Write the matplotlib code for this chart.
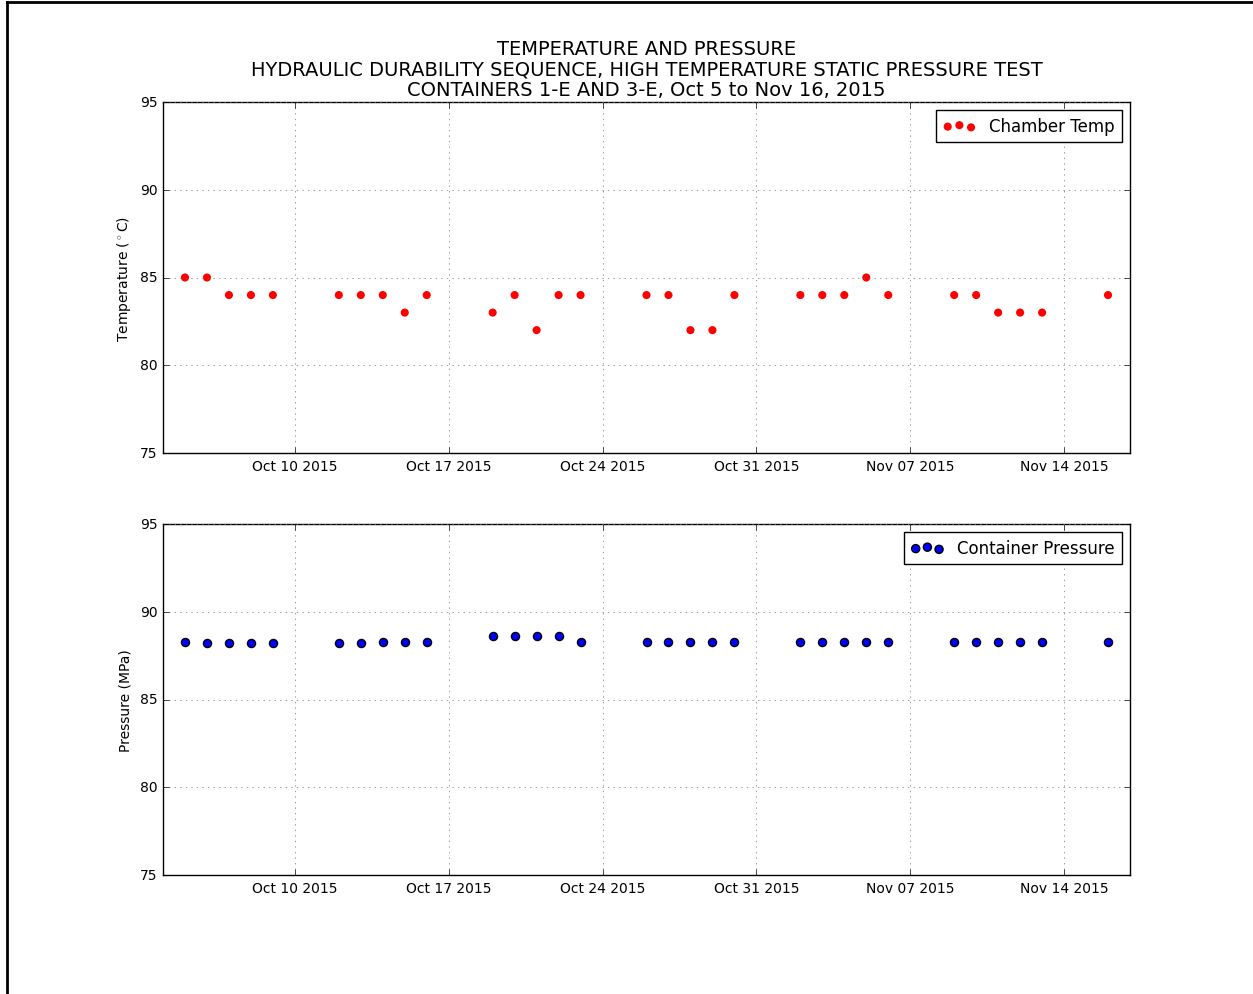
import datetime as dt
import matplotlib
matplotlib.use('Agg')
import matplotlib.pyplot as plt
import matplotlib.dates as mdates
from matplotlib.lines import Line2D

plt.style.use('classic')

# data: weekday readings, Oct 5 - Nov 16 2015
dates = ['2015-10-05', '2015-10-06', '2015-10-07', '2015-10-08', '2015-10-09',
         '2015-10-12', '2015-10-13', '2015-10-14', '2015-10-15', '2015-10-16',
         '2015-10-19', '2015-10-20', '2015-10-21', '2015-10-22', '2015-10-23',
         '2015-10-26', '2015-10-27', '2015-10-28', '2015-10-29', '2015-10-30',
         '2015-11-02', '2015-11-03', '2015-11-04', '2015-11-05', '2015-11-06',
         '2015-11-09', '2015-11-10', '2015-11-11', '2015-11-12', '2015-11-13',
         '2015-11-16']
temp = [85, 85, 84, 84, 84,
        84, 84, 84, 83, 84,
        83, 84, 82, 84, 84,
        84, 84, 82, 82, 84,
        84, 84, 84, 85, 84,
        84, 84, 83, 83, 83,
        84]
pres = [88.27, 88.21, 88.21, 88.21, 88.21,
        88.21, 88.21, 88.27, 88.27, 88.27,
        88.6, 88.6, 88.6, 88.6, 88.27,
        88.27, 88.27, 88.27, 88.27, 88.27,
        88.27, 88.27, 88.27, 88.27, 88.27,
        88.27, 88.27, 88.27, 88.27, 88.27,
        88.27]

x = [dt.datetime.strptime(d, '%Y-%m-%d') for d in dates]
xmin = dt.datetime(2015, 10, 4)
xmax = dt.datetime(2015, 11, 17)

fig = plt.figure(figsize=(12.53, 9.95), dpi=100, facecolor='white')
ax1 = fig.add_axes([163/1253, 1-454/995, 967/1253, 351/995])
ax2 = fig.add_axes([163/1253, 1-876/995, 967/1253, 351/995])

ax1.scatter(x, temp, s=34, color='red', edgecolor='none', label='Chamber Temp')
ax2.scatter(x, pres, s=34, color='blue', edgecolor='black', label='Container Pressure')

for ax, lab in [(ax1, 'Temperature ($^\\circ$C)'), (ax2, 'Pressure (MPa)')]:
    ax.set_xlim(xmin, xmax)
    ax.set_ylim(75, 95)
    ax.set_yticks([75, 80, 85, 90, 95])
    ax.xaxis.set_major_locator(mdates.WeekdayLocator(byweekday=mdates.SA))
    ax.xaxis.set_major_formatter(mdates.DateFormatter('%b %d %Y'))
    ax.tick_params(labelsize=10)
    ax.set_ylabel(lab, fontsize=10)
    ax.grid(True, color='0.45')
    ax.legend(loc='upper right', fontsize=12, scatterpoints=3)

ax1.set_title('TEMPERATURE AND PRESSURE\n'
              'HYDRAULIC DURABILITY SEQUENCE, HIGH TEMPERATURE STATIC PRESSURE TEST\n'
              'CONTAINERS 1-E AND 3-E, Oct 5 to Nov 16, 2015', fontsize=14,
              linespacing=1.1)

# frame around the screenshot
fig.add_artist(Line2D([7/1253, 1], [1-3/995, 1-3/995], color='black', lw=2,
                      transform=fig.transFigure))
fig.add_artist(Line2D([7/1253, 7/1253], [0, 1-3/995], color='black', lw=2,
                      transform=fig.transFigure))

fig.savefig('out.png', dpi=100, facecolor='white')
